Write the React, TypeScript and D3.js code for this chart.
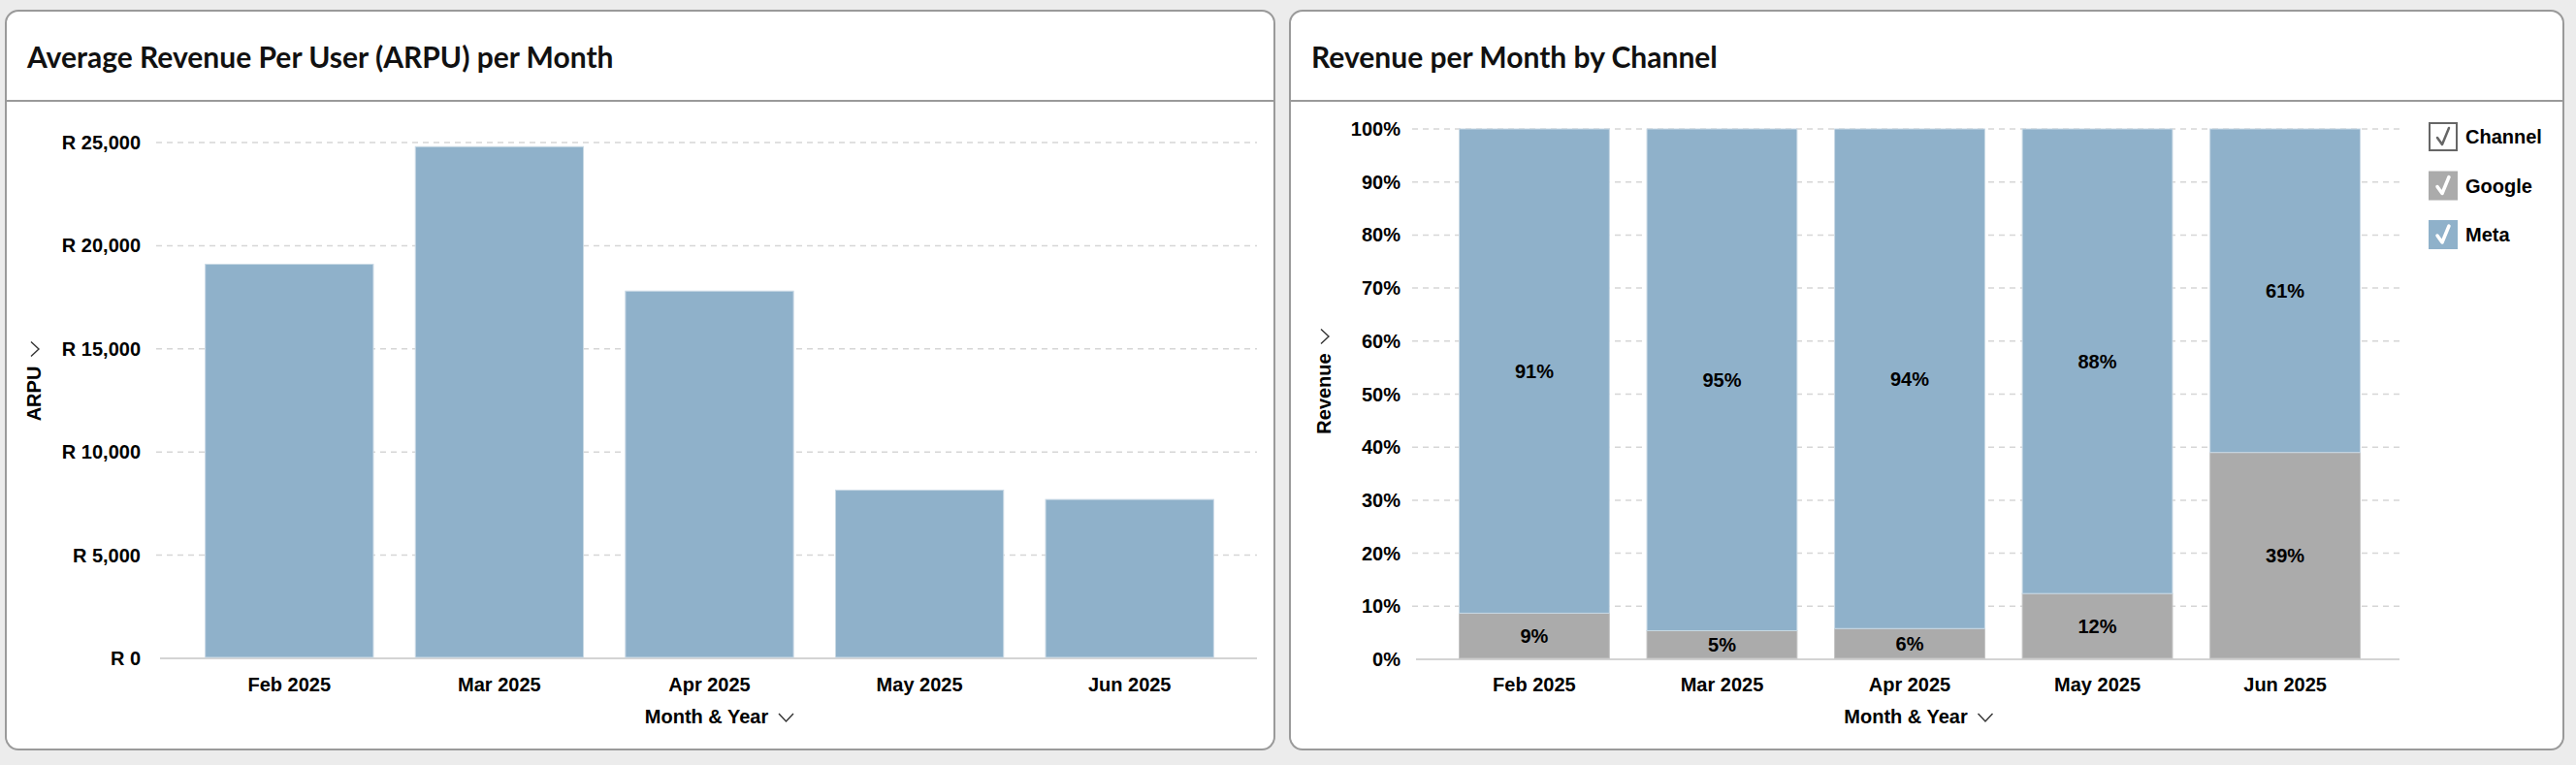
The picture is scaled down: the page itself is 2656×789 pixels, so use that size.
import * as d3 from "d3";

const months = ["Feb 2025", "Mar 2025", "Apr 2025", "May 2025", "Jun 2025"];
const arpu = [19100, 24800, 17800, 8150, 7700];
const arpuTicks = [0, 5000, 10000, 15000, 20000, 25000];

const channels = ["Google", "Meta"];
const googleShare = [8.7, 5.4, 5.8, 12.4, 39.0];
const metaShare = [91.3, 94.6, 94.2, 87.6, 61.0];
const shareTicks = [0, 10, 20, 30, 40, 50, 60, 70, 80, 90, 100];

const BLUE = "#8fb1ca";
const GREY = "#ababab";
const FONT = "'Liberation Sans', Arial, sans-serif";
const TITLE_FONT = "Lato, 'Open Sans', sans-serif";
const PLOT_MID = 406;

function Chevron({ x, y }: { x: number; y: number }) {
    return (
        <path
            d={`M${x},${y - 4} L${x + 7.5},${y + 4} L${x + 15},${y - 4}`}
            fill="none"
            stroke="#333"
            strokeWidth={1.4}
        />
    );
}

// axis title with the little dropdown chevron after it
function AxisTitle({ x, y, text, width, rotate }: { x: number; y: number; text: string; width: number; rotate?: boolean }) {
    return (
        <g transform={`translate(${x},${y})${rotate ? " rotate(-90)" : ""}`}>
            <text
                textAnchor="middle"
                dominantBaseline="central"
                fontFamily={FONT}
                fontWeight="bold"
                fontSize={20}
                fill="#000"
            >
                {text}
            </text>
            <Chevron x={width / 2 + 10} y={1} />
        </g>
    );
}

function Panel({ x, w, title }: { x: number; w: number; title: string }) {
    return (
        <g>
            <rect x={x} y={11} width={w} height={762} rx={13} fill="#fff" stroke="#9a9a9a" strokeWidth={2} />
            <line x1={x} x2={x + w} y1={104} y2={104} stroke="#9a9a9a" strokeWidth={2} />
            <text x={x + 22} y={70} fontFamily={TITLE_FONT} fontWeight={700} fontSize={30} fill="#111">
                {title}
            </text>
        </g>
    );
}

function Grid({ ticks, y, x0, x1, fmt, labelX }: { ticks: number[]; y: d3.ScaleLinear<number, number>; x0: number; x1: number; fmt: (d: number) => string; labelX: number }) {
    return (
        <g>
            {ticks.map((t) => (
                <g key={t}>
                    {t === 0 ? (
                        <line x1={x0 + 4} x2={x1} y1={y(t)} y2={y(t)} stroke="#d4d4d4" strokeWidth={2} />
                    ) : (
                        <line x1={x0} x2={x1} y1={y(t)} y2={y(t)} stroke="#d6d6d6" strokeWidth={1.5} strokeDasharray="6,5" />
                    )}
                    <text
                        x={labelX}
                        y={y(t)}
                        textAnchor="end"
                        dominantBaseline="central"
                        fontFamily={FONT}
                        fontWeight="bold"
                        fontSize={20}
                        fill="#000"
                    >
                        {fmt(t)}
                    </text>
                </g>
            ))}
        </g>
    );
}

function ArpuChart() {
    const x0 = 161, x1 = 1296;
    const x = d3.scaleBand<string>().domain(months).range([x0 + 3, x1 + 3]).paddingInner(0.2).paddingOuter(0.22);
    const y = d3.scaleLinear().domain([0, 25000]).range([679, 147]);
    const fmt = (d: number) => "R " + d3.format(",")(d);
    return (
        <g>
            <Grid ticks={arpuTicks} y={y} x0={x0} x1={x1} fmt={fmt} labelX={145} />
            {months.map((m, i) => (
                <rect
                    key={m}
                    x={x(m)}
                    y={y(arpu[i])}
                    width={x.bandwidth()}
                    height={y(0) - y(arpu[i]) - 1}
                    fill={BLUE}
                    stroke="#c9d9e5"
                    strokeWidth={1}
                />
            ))}
            {months.map((m) => (
                <text
                    key={m}
                    x={(x(m) ?? 0) + x.bandwidth() / 2}
                    y={706}
                    textAnchor="middle"
                    dominantBaseline="central"
                    fontFamily={FONT}
                    fontWeight="bold"
                    fontSize={20}
                >
                    {m}
                </text>
            ))}
            <AxisTitle x={(x0 + x1) / 2} y={739} text="Month & Year" width={129} />
            <AxisTitle x={35} y={PLOT_MID} text="ARPU" width={57} rotate />
        </g>
    );
}

function ChannelChart() {
    const x0 = 1456, x1 = 2474;
    const x = d3.scaleBand<string>().domain(months).range([x0 + 4, x1 + 4]).paddingInner(0.2).paddingOuter(0.23);
    const y = d3.scaleLinear().domain([0, 100]).range([680, 133]);
    const fmt = (d: number) => d + "%";
    const stack = d3
        .stack<number>()
        .keys(channels)
        .value((i, key) => (key === "Google" ? googleShare[i] : metaShare[i]));
    const series = stack(months.map((_, i) => i));
    const colors = [GREY, BLUE];
    const legend = ["Channel", ...channels];
    return (
        <g>
            <Grid ticks={shareTicks} y={y} x0={x0} x1={x1} fmt={fmt} labelX={1444} />
            {series.map((s, si) => (
                <g key={s.key}>
                    {s.map((d, i) => (
                        <g key={i}>
                            <rect
                                x={x(months[i])}
                                y={y(d[1])}
                                width={x.bandwidth()}
                                height={y(d[0]) - y(d[1]) - (si === 0 ? 1 : 0)}
                                fill={colors[si]}
                                stroke={si === 0 ? "#c4c4c4" : "#c9d9e5"}
                                strokeWidth={1}
                            />
                            <text
                                x={(x(months[i]) ?? 0) + x.bandwidth() / 2}
                                y={(y(d[0]) + y(d[1])) / 2}
                                textAnchor="middle"
                                dominantBaseline="central"
                                fontFamily={FONT}
                                fontWeight="bold"
                                fontSize={20}
                            >
                                {Math.round(d[1] - d[0])}%
                            </text>
                        </g>
                    ))}
                </g>
            ))}
            {months.map((m) => (
                <text
                    key={m}
                    x={(x(m) ?? 0) + x.bandwidth() / 2}
                    y={706}
                    textAnchor="middle"
                    dominantBaseline="central"
                    fontFamily={FONT}
                    fontWeight="bold"
                    fontSize={20}
                >
                    {m}
                </text>
            ))}
            <AxisTitle x={(x0 + x1) / 2} y={739} text="Month & Year" width={129} />
            <AxisTitle x={1365} y={PLOT_MID} text="Revenue" width={83} rotate />
            {legend.map((name, i) => {
                const cy = 141 + i * 50.5;
                const bx = 2504, s = 30;
                const first = i === 0;
                return (
                    <g key={name}>
                        <rect
                            x={first ? bx + 1 : bx}
                            y={cy - s / 2 + (first ? 1 : 0)}
                            width={first ? s - 2 : s}
                            height={first ? s - 2 : s}
                            fill={first ? "#fff" : colors[i - 1]}
                            stroke={first ? "#666" : "none"}
                            strokeWidth={2}
                        />
                        <path
                            d={`M${bx + 9},${cy + 1} L${bx + 14},${cy + 8} L${bx + 21},${cy - 9}`}
                            fill="none"
                            stroke={first ? "#666" : "#fff"}
                            strokeWidth={first ? 2.5 : 3.5}
                            strokeLinecap="round"
                            strokeLinejoin="round"
                        />
                        <text
                            x={2542}
                            y={cy}
                            dominantBaseline="central"
                            fontFamily={FONT}
                            fontWeight="bold"
                            fontSize={20}
                        >
                            {name}
                        </text>
                    </g>
                );
            })}
        </g>
    );
}

export default function App() {
    return (
        <div style={{ position: "fixed", left: 0, top: 0 }}>
            <svg width={2656} height={789}>
                <rect width={2656} height={789} fill="#ececec" />
                <Panel x={6} w={1308} title="Average Revenue Per User (ARPU) per Month" />
                <Panel x={1330} w={1313} title="Revenue per Month by Channel" />
                <ArpuChart />
                <ChannelChart />
            </svg>
        </div>
    );
}
